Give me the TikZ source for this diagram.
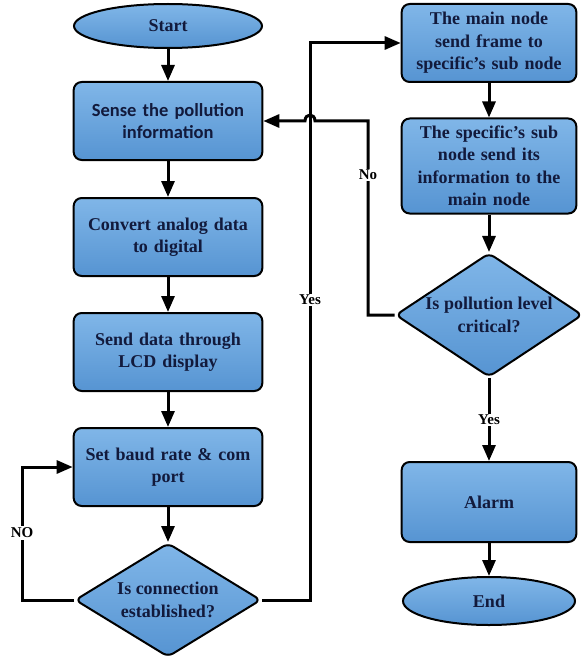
\documentclass[tikz,border=0pt]{standalone}
\usepackage{fontspec}
\setmainfont{Liberation Serif}
\newfontfamily\calsans{Carlito}
\usetikzlibrary{shapes.geometric,arrows.meta}

\definecolor{boxblue}{RGB}{86,148,210}
\definecolor{boxtop}{RGB}{128,182,232}
\definecolor{navy}{RGB}{18,26,60}

\begin{document}
\begin{tikzpicture}[x=1pt,y=-1pt,
  shape base/.style={draw=black, line width=2pt, top color=boxtop, bottom color=boxblue},
  box/.style={shape base, rounded corners=8pt, minimum width=187pt, minimum height=78pt,
    text width=182pt, align=center, text=navy, font=\bfseries\fontsize{18}{22.5}\selectfont},
  rbox/.style={box, minimum width=172pt, text width=168pt},
  term/.style={shape base, ellipse, inner sep=0pt, text=navy,
    font=\bfseries\fontsize{18}{22.5}\selectfont},
  decision/.style={shape base, diamond, rounded corners=6pt, inner sep=0pt},
  dtext/.style={align=center, text=navy, font=\bfseries\fontsize{18}{22.5}\selectfont},
  arr/.style={line width=3pt, -{Triangle[length=16pt,width=13pt]}},
  lbl/.style={fill=white, inner sep=1.5pt, font=\bfseries\fontsize{15}{17}\selectfont}]

  \useasboundingbox (0,0) rectangle (586,666);

  % Columns of the chart
  \def\lx{168}
  \def\rx{489}
  \def\yesx{310}
  \def\nox{368}
  \def\backx{22}

  % Left column
  \node[term, minimum width=188pt, minimum height=44pt] (start) at (\lx,26) {Start};
  \node[box, font=\calsans\bfseries\fontsize{18.5}{22.5}\selectfont] (sense) at (\lx,121)
    {Sense the pollution\\information};
  \node[box] (convert) at (\lx,237) {Convert analog data\\to digital};
  \node[box] (lcd) at (\lx,352) {Send data through\\LCD display};
  \node[box] (baud) at (\lx,467) {Set baud rate \& com\\port};
  \node[decision, minimum width=186pt, minimum height=114pt] (conn) at (\lx,600) {};
  \node[dtext] (conntext) at (conn) {Is connection\\established?};

  % Right column
  \node[rbox] (frame) at (\rx,43) {The main node\\send frame to\\specific's sub node};
  \node[rbox, minimum height=95pt] (subnode) at (\rx,166)
    {The specific's sub\\node send its\\information to the\\main node};
  \node[decision, minimum width=187pt, minimum height=124pt] (crit) at (\rx,315) {};
  \node[dtext] (crittext) at (crit) {Is pollution level\\critical?};
  \node[rbox, minimum height=80pt] (alarm) at (\rx,502) {Alarm};
  \node[term, minimum width=172pt, minimum height=48pt] (end) at (\rx,601) {End};

  % Straight arrows
  \draw[arr] (start) -- (sense);
  \draw[arr] (sense) -- (convert);
  \draw[arr] (convert) -- (lcd);
  \draw[arr] (lcd) -- (baud);
  \draw[arr] (baud) -- (conn);
  \draw[arr] (frame) -- (subnode);
  \draw[arr] (subnode) -- (crit);
  \draw[arr] (crit) -- (alarm);
  \draw[arr] (alarm) -- (end);

  % Loops
  \coordinate (nocorner) at (\backx,600);
  \draw[arr] (conn.west) -- (nocorner) |- (baud.west);
  \coordinate (yescorner) at (\yesx,600);
  \draw[arr] (conn.east) -- (yescorner) |- (frame.west);
  \coordinate (critcorner) at (\nox,315);
  \coordinate (hopright) at (\yesx+5,121);
  \coordinate (hopleft) at (\yesx-5,121);
  \draw[arr] (crit.west) -- (critcorner) |- (hopright)
    .. controls (\yesx+5,113) and (\yesx-5,113) .. (hopleft) -- (sense.east);

  % Labels
  \node[lbl] (nolbl) at (\backx,533) {NO};
  \node[lbl] (yeslbl) at (\yesx,300) {Yes};
  \node[lbl] (critno) at (\nox,175) {No};
  \node[lbl] (crityes) at (\rx,420) {Yes};

\end{tikzpicture}
\end{document}
